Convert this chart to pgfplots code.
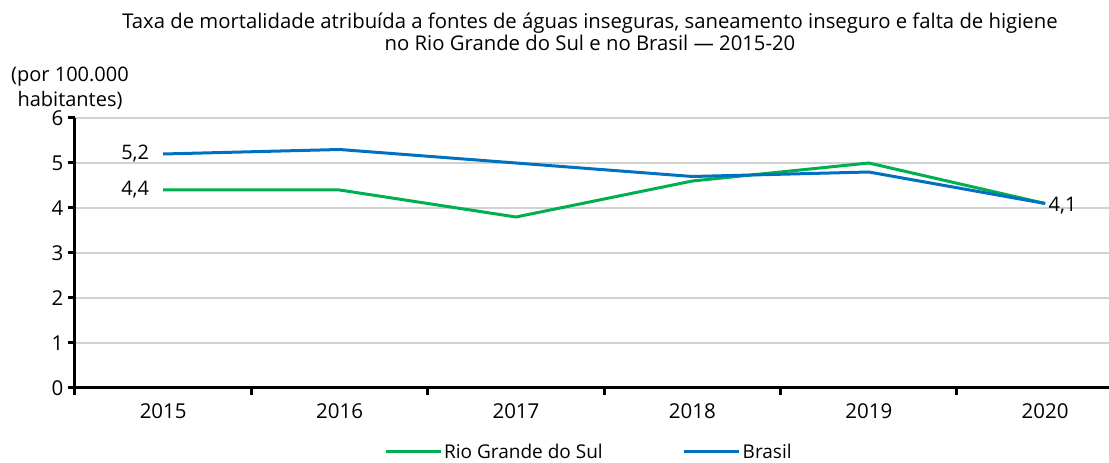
\documentclass[border=0pt]{standalone}
\usepackage{pgfplots}
\pgfplotsset{compat=1.18}
\usepackage{fontspec}
\setmainfont{Open Sans}
\definecolor{rsgreen}{RGB}{0,176,80}
\definecolor{brblue}{RGB}{0,112,192}
\definecolor{gridgray}{RGB}{210,210,210}
\begin{document}
\begin{tikzpicture}
\path[use as bounding box] (-75pt,-75pt) rectangle (1034pt,388pt);
\begin{axis}[
  at={(0,0)}, anchor=south west,
  scale only axis, width=1034pt, height=270pt,
  xmin=-0.5, xmax=5.362, ymin=0, ymax=6,
  axis x line=bottom, axis y line=left,
  axis line style={line width=3pt,-},
  x axis line style={-}, y axis line style={-},
  xtick={0,1,2,3,4,5},
  xticklabels={2015,2016,2017,2018,2019,2020},
  major x tick style={draw=none},
  minor xtick={-0.5,0.5,1.5,2.5,3.5,4.5},
  minor x tick style={line width=3pt,black},
  minor tick length=7pt,
  ytick={0,1,2,3,4,5,6},
  major y tick style={line width=3pt,black},
  major tick length=7pt,
  tick align=outside,
  /pgf/number format/assume math mode=true,
  ymajorgrids, grid style={gridgray,line width=1.5pt},
  tick label style={font=\fontsize{20.5}{22}\selectfont},
  yticklabel style={xshift=-1pt},
  xticklabel style={yshift=-5pt},
  legend style={at={(0.497,-0.237)},anchor=center,draw=none,
    font=\fontsize{19}{21}\selectfont,legend columns=2,
    /tikz/every even column/.append style={column sep=78pt}},
  legend image code/.code={\draw[#1,line width=3pt] (0pt,0pt) -- (55pt,0pt);},
  clip=false,
]
\addplot[rsgreen,line width=3pt] coordinates {(0,4.4) (1,4.4) (2,3.8) (3,4.6) (4,5.0) (5,4.1)};
\addlegendentry{Rio Grande do Sul}
\addplot[brblue,line width=3pt] coordinates {(0,5.2) (1,5.3) (2,5.0) (3,4.7) (4,4.8) (5,4.1)};
\addlegendentry{Brasil}
\node[anchor=east,font=\fontsize{20}{22}\selectfont] at (axis cs:-0.06,5.2) {5,2};
\node[anchor=east,font=\fontsize{20}{22}\selectfont] at (axis cs:-0.06,4.4) {4,4};
\node[anchor=west,font=\fontsize{20}{22}\selectfont] at (axis cs:5.0,4.05) {4,1};
\end{axis}
\node[align=center,font=\fontsize{20.3}{22.5}\selectfont] at (515pt,356pt) {Taxa de mortalidade atribuída a fontes de águas inseguras, saneamento inseguro e falta de higiene\\no Rio Grande do Sul e no Brasil — 2015-20};
\node[align=center,font=\fontsize{20}{25}\selectfont] at (-5pt,300pt) {(por 100.000\\habitantes)};
\end{tikzpicture}
\end{document}
